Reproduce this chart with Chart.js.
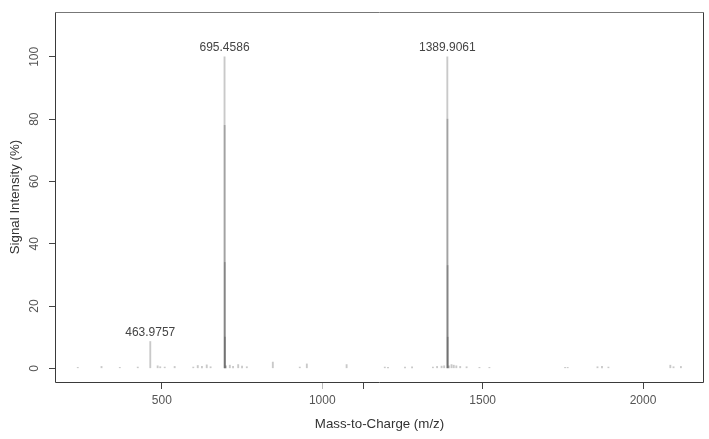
<!DOCTYPE html>
<html><head><meta charset="utf-8">
<script src="https://cdn.jsdelivr.net/npm/chart.js@4.4.1/dist/chart.umd.min.js"></script>
<style>html,body{margin:0;padding:0;background:#fff}#wrap{width:709px;height:439px}</style>
</head><body><div id="wrap"><canvas id="c" width="709" height="439"></canvas></div>
<script>
// ---- data ----
const peakMz = [238, 312, 369, 425, 463.9757, 487, 495, 509, 540, 598, 612, 625, 640, 652,
  695.4586, 695.96, 696.46, 696.96, 700, 712, 722, 738, 750, 765, 846, 930, 952, 1076,
  1195, 1205, 1258, 1280, 1345, 1358, 1372, 1380,
  1389.9061, 1390.41, 1390.91, 1391.41, 1395, 1403, 1410, 1418, 1430, 1450, 1490, 1521,
  1757, 1765, 1858, 1872, 1892, 2085, 2095, 2118];
const peakIntensity = [0.3, 0.6, 0.3, 0.4, 8.6, 0.8, 0.5, 0.4, 0.6, 0.4, 0.9, 0.6, 1.1, 0.5,
  100, 78, 34, 10, 0.8, 1.0, 0.6, 1.2, 0.7, 0.5, 2.0, 0.4, 1.4, 1.2,
  0.4, 0.3, 0.4, 0.5, 0.4, 0.6, 0.7, 0.8,
  100, 80, 33, 10, 0.8, 1.2, 1.0, 0.8, 0.6, 0.5, 0.3, 0.3,
  0.3, 0.3, 0.5, 0.6, 0.4, 1.0, 0.5, 0.6];
const labelMz = [463.9757, 695.4586, 1389.9061];
const labelIntensity = [8.6, 100, 100];
const labelText = ['463.9757', '695.4586', '1389.9061'];
const xTicks = [500, 1000, 1130, 1500, 2000];
const xTickLabels = ['500', '1000', '', '1500', '2000'];
const yTicks = [0, 20, 40, 60, 80, 100];
const xRange = [167, 2190];
const yRange = [-4.4, 114.4];

const points = peakMz.map((m, i) => ({x: m, y: peakIntensity[i]}));

const FONT = "'Liberation Sans', Arial, Helvetica, sans-serif";
Chart.defaults.font.family = FONT;

const framePlugin = {
  id: 'frame',
  afterDraw(chart) {
    const {ctx, chartArea: a} = chart;
    ctx.save();
    ctx.lineWidth = 1;
    ctx.strokeStyle = '#3a3a3a';
    ctx.beginPath();
    ctx.moveTo(a.left + 0.5, a.top + 0.5);
    ctx.lineTo(a.left + 0.5, a.bottom + 0.5);
    ctx.lineTo(a.right - 0.5, a.bottom + 0.5);
    ctx.lineTo(a.right - 0.5, a.top + 0.5);
    ctx.stroke();
    ctx.strokeStyle = '#777';
    ctx.beginPath();
    ctx.moveTo(a.left, a.top + 0.5);
    ctx.lineTo(a.right, a.top + 0.5);
    ctx.stroke();
    ctx.restore();
  }
};

const labelPlugin = {
  id: 'peakLabels',
  afterDatasetsDraw(chart) {
    const {ctx, scales: {x, y}} = chart;
    ctx.save();
    ctx.font = '12px ' + FONT;
    ctx.fillStyle = '#444';
    ctx.textAlign = 'center';
    ctx.textBaseline = 'alphabetic';
    labelMz.forEach((m, i) => {
      ctx.fillText(labelText[i], x.getPixelForValue(m), y.getPixelForValue(labelIntensity[i]) - 5.5);
    });
    ctx.restore();
  }
};

new Chart(document.getElementById('c'), {
  type: 'bar',
  data: {
    datasets: [{
      data: points,
      backgroundColor: 'rgba(60,60,60,0.28)',
      borderWidth: 0,
      barThickness: 1.2,
      grouped: false
    }]
  },
  options: {
    responsive: false,
    animation: false,
    devicePixelRatio: 1,
    layout: {padding: {top: 12, right: 5, left: 0, bottom: 0}},
    plugins: {legend: {display: false}, tooltip: {enabled: false}},
    scales: {
      x: {
        type: 'linear',
        offset: false,
        min: xRange[0], max: xRange[1],
        afterBuildTicks: s => { s.ticks = xTicks.map(v => ({value: v})); },
        afterFit: s => { s.height = 57; },
        ticks: {
          autoSkip: false, maxRotation: 0, minRotation: 0,
          padding: 4, color: '#555', font: {size: 12},
          callback: (v) => xTickLabels[xTicks.indexOf(v)]
        },
        grid: {offset: false, drawOnChartArea: false, drawTicks: true, tickLength: 7,
               tickColor: c => (c.tick && c.tick.value === 1000) ? '#bbb' : '#444'},
        border: {display: false},
        title: {display: true, text: 'Mass-to-Charge (m/z)', color: '#333',
                font: {size: 13.3}, padding: {top: 0, bottom: 7}}
      },
      y: {
        type: 'linear',
        min: yRange[0], max: yRange[1],
        afterBuildTicks: s => { s.ticks = yTicks.map(v => ({value: v})); },
        afterFit: s => { s.width = 55; },
        ticks: {
          minRotation: 90, maxRotation: 90, crossAlign: 'center',
          padding: 4, color: '#555', font: {size: 12},
          callback: v => String(v)
        },
        grid: {drawOnChartArea: false, drawTicks: true, tickLength: 6, tickColor: '#444'},
        border: {display: false},
        title: {display: true, text: 'Signal Intensity (%)', color: '#333',
                font: {size: 13.3}, padding: {top: 7, bottom: 0}}
      }
    }
  },
  plugins: [framePlugin, labelPlugin]
});
</script></body></html>
